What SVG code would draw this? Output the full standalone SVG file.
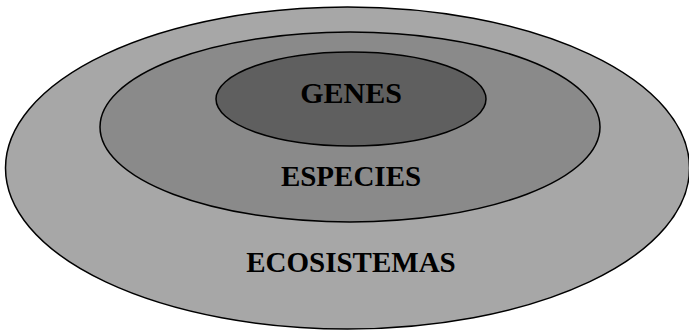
<svg xmlns="http://www.w3.org/2000/svg" width="689" height="331" viewBox="0 0 689 331">
<style>
.ring{stroke:#000;stroke-width:1.5}
.lbl{font-family:"Liberation Serif","Times New Roman",serif;font-weight:bold;font-size:29px;fill:#000;text-anchor:middle}
</style>
<rect width="689" height="331" fill="#fff"/>
<g id="ecosistemas">
<ellipse class="ring" cx="347.5" cy="168" rx="342" ry="161" fill="#a7a7a7"/>
<text class="lbl" x="351" y="272">ECOSISTEMAS</text>
</g>
<g id="especies">
<ellipse class="ring" cx="350" cy="127" rx="250" ry="95" fill="#8a8a8a"/>
<text class="lbl" x="351" y="186">ESPECIES</text>
</g>
<g id="genes">
<ellipse class="ring" cx="351" cy="99" rx="135" ry="47" fill="#5f5f5f"/>
<text class="lbl" x="351" y="103" style="font-size:30px">GENES</text>
</g>
<g id="connectors"/>
</svg>
